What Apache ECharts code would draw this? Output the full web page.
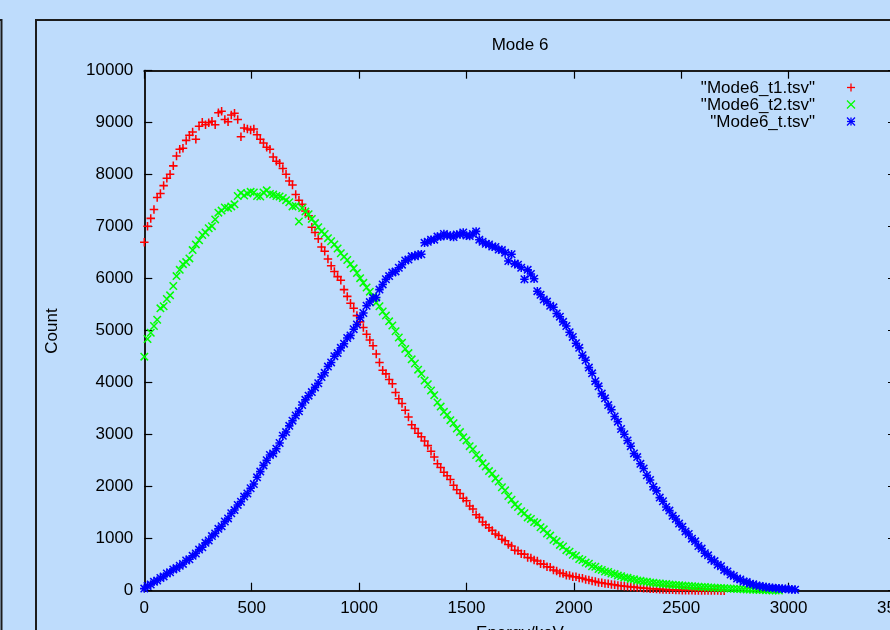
<!DOCTYPE html>
<html>
<head>
<meta charset="utf-8">
<title>Mode 6</title>
<script src="https://cdn.jsdelivr.net/npm/echarts@6/dist/echarts.min.js"></script>
<style>
  html, body { margin: 0; padding: 0; background: #bedcfc; }
  #chart { width: 890px; height: 630px; }
</style>
</head>
<body>
<div id="chart"></div>
<script>
// Energy bins are 15 keV wide, starting at 0 keV.
const ENERGY_STEP_KEV = 15;

// Counts per bin for each file.
const t1Counts = [
  6700, 7010, 7160, 7330, 7560, 7640, 7790, 7930, 8010, 8170,
  8360, 8490, 8510, 8660, 8760, 8820, 8680, 8930, 9010, 8960,
  9000, 9030, 8960, 9190, 9220, 9060, 9020, 9150, 9180, 9060,
  8730, 8900, 8880, 8860, 8880, 8770, 8680, 8610, 8530, 8490,
  8340, 8260, 8220, 8120, 8010, 7880, 7800, 7620, 7510, 7430,
  7300, 7210, 6990, 6890, 6770, 6610, 6530, 6380, 6250, 6140,
  6040, 5970, 5790, 5660, 5530, 5430, 5290, 5170, 5060, 4930,
  4820, 4710, 4550, 4390, 4240, 4170, 4060, 3980, 3810, 3690,
  3600, 3470, 3340, 3190, 3120, 3030, 2960, 2880, 2790, 2680,
  2570, 2440, 2370, 2280, 2210, 2140, 2030, 1940, 1870, 1780,
  1730, 1630, 1570, 1460, 1410, 1320, 1270, 1210, 1160, 1090,
  1060, 990, 960, 890, 860, 780, 770, 710, 700, 640,
  630, 590, 570, 520, 510, 460, 450, 400, 380, 340,
  330, 295, 290, 270, 268, 245, 238, 215, 208, 186,
  178, 158, 152, 137, 132, 118, 114, 102, 97, 86,
  81, 72, 69, 60, 57, 49, 46, 39, 36, 31,
  29, 24, 23, 19, 18, 15, 14, 11, 10, 9,
  8, 6, 6, 5, 4, 3, 3, 2, 2, 1,
  1
];

const t2Counts = [
  4500, 4840, 4960, 5090, 5210, 5430, 5470, 5610, 5680, 5860,
  6050, 6170, 6280, 6320, 6390, 6550, 6660, 6740, 6840, 6890,
  6970, 7010, 7140, 7270, 7310, 7370, 7360, 7390, 7430, 7590,
  7650, 7600, 7640, 7670, 7660, 7590, 7580, 7660, 7700, 7630,
  7620, 7590, 7580, 7550, 7510, 7470, 7390, 7400, 7100, 7360,
  7290, 7240, 7150, 7070, 6990, 6910, 6860, 6780, 6720, 6660,
  6580, 6490, 6420, 6360, 6280, 6200, 6110, 6010, 5920, 5830,
  5750, 5660, 5540, 5470, 5370, 5290, 5180, 5100, 4990, 4870,
  4770, 4650, 4570, 4450, 4370, 4250, 4170, 4040, 3970, 3850,
  3760, 3620, 3540, 3440, 3380, 3280, 3220, 3120, 3050, 2950,
  2890, 2780, 2720, 2610, 2550, 2450, 2390, 2300, 2250, 2160,
  2100, 1990, 1930, 1820, 1750, 1660, 1610, 1530, 1490, 1410,
  1380, 1320, 1300, 1220, 1180, 1100, 1060, 980, 950, 880,
  850, 780, 750, 690, 670, 610, 590, 540, 520, 470,
  460, 415, 400, 370, 360, 330, 320, 290, 280, 255,
  248, 226, 218, 198, 192, 178, 172, 158, 154, 143,
  140, 130, 128, 118, 116, 108, 106, 98, 96, 88,
  86, 79, 77, 71, 69, 63, 61, 56, 54, 50,
  48, 43, 41, 37, 35, 31, 29, 25, 23, 20,
  18, 15, 13, 10, 8, 6, 4, 2
];

const tCounts = [
  40, 90, 120, 170, 195, 245, 275, 330, 355, 410,
  435, 480, 515, 580, 605, 670, 715, 790, 835, 920,
  965, 1050, 1100, 1190, 1240, 1330, 1390, 1490, 1550, 1650,
  1710, 1810, 1870, 1970, 2050, 2180, 2290, 2410, 2510, 2610,
  2640, 2730, 2840, 2980, 3050, 3170, 3270, 3370, 3450, 3570,
  3670, 3750, 3820, 3910, 3990, 4110, 4190, 4310, 4390, 4510,
  4570, 4670, 4750, 4860, 4910, 5030, 5120, 5250, 5340, 5480,
  5550, 5630, 5640, 5790, 5890, 5990, 6050, 6120, 6140, 6210,
  6270, 6350, 6370, 6430, 6430, 6460, 6470, 6690, 6710, 6750,
  6750, 6810, 6810, 6860, 6830, 6830, 6800, 6850, 6850, 6890,
  6830, 6820, 6860, 6910, 6750, 6710, 6670, 6660, 6620, 6610,
  6560, 6550, 6500, 6340, 6470, 6290, 6270, 6210, 5990, 6170,
  6090, 6000, 5760, 5690, 5600, 5560, 5480, 5450, 5330, 5270,
  5170, 5090, 4970, 4880, 4760, 4670, 4530, 4430, 4290, 4180,
  4030, 3930, 3790, 3700, 3570, 3480, 3350, 3250, 3110, 3010,
  2890, 2780, 2640, 2570, 2440, 2350, 2220, 2130, 2000, 1920,
  1790, 1720, 1610, 1540, 1440, 1380, 1290, 1230, 1140, 1090,
  1000, 950, 860, 810, 720, 680, 600, 570, 500, 470,
  400, 370, 310, 285, 235, 215, 175, 165, 135, 125,
  98, 92, 78, 72, 58, 56, 48, 46, 38, 36,
  28, 26, 18
];

const seriesNames = ['"Mode6_t1.tsv"', '"Mode6_t2.tsv"', '"Mode6_t.tsv"'];
const seriesColors = ['#ff0000', '#00ff00', '#0000ff'];

// Axis ranges and tick steps
const X_MIN = 0, X_MAX = 3500, X_STEP = 500;
const Y_MIN = 0, Y_MAX = 10000, Y_STEP = 1000;

// Point markers: plus, cross and asterisk
const PLUS = 'M0,4.1H10V5.9H0Z M4.1,0H5.9V10H4.1Z';
const CROSS = 'M0,1.27L1.27,0L10,8.73L8.73,10Z M8.73,0L10,1.27L1.27,10L0,8.73Z';
const STAR = PLUS + ' ' + CROSS;
const markers = [PLUS, CROSS, STAR];

// Stroke segments of the same markers for the key (unit half-size)
const KEY_STROKES = [
  [[-1, 0, 1, 0], [0, -1, 0, 1]],
  [[-1, -1, 1, 1], [-1, 1, 1, -1]],
  [[-1, 0, 1, 0], [0, -1, 0, 1], [-1, -1, 1, 1], [-1, 1, 1, -1]]
];

const FONT = "'Liberation Sans', Arial, Helvetica, sans-serif";
const INK = '#000';
const FRAME = '#1c1c1c';

function toPoints(counts) {
  return counts.map((c, i) => [i * ENERGY_STEP_KEV, c]);
}

const allCounts = [t1Counts, t2Counts, tCounts];

const axisLine = { show: true, onZero: false, lineStyle: { color: FRAME, width: 2 } };
const axisTick = { show: true, inside: true, length: 8, lineStyle: { color: INK, width: 1.2 } };
const plainNumber = v => String(v);

const chart = echarts.init(document.getElementById('chart'), null, { renderer: 'canvas' });

// Key: right-aligned names with their marker to the right
const legendGraphics = [];
seriesNames.forEach((name, k) => {
  const y = 88 + k * 17;
  legendGraphics.push({
    type: 'text', x: 815, y: y,
    style: { text: name, fill: INK, font: '17px ' + FONT, textAlign: 'right', textVerticalAlign: 'middle' }
  });
  const cx = 851, cy = y - 0.5, h = 4;
  KEY_STROKES[k].forEach(s => {
    legendGraphics.push({
      type: 'line',
      shape: { x1: cx + s[0] * h, y1: cy + s[1] * h, x2: cx + s[2] * h, y2: cy + s[3] * h },
      style: { stroke: seriesColors[k], lineWidth: 1.3 }
    });
  });
});

chart.setOption({
  backgroundColor: '#bedcfc',
  animation: false,
  grid: {
    left: 144.3, top: 70.7, width: 751.7, height: 520,
    outerBoundsMode: 'none', containLabel: false
  },
  xAxis: [
    {
      type: 'value', position: 'bottom', min: X_MIN, max: X_MAX, interval: X_STEP,
      axisLine: axisLine, axisTick: axisTick, splitLine: { show: false },
      axisLabel: { margin: 9, fontSize: 17, color: INK, fontFamily: FONT, formatter: plainNumber }
    },
    {
      type: 'value', position: 'top', min: X_MIN, max: X_MAX, interval: X_STEP,
      axisLine: axisLine, axisTick: axisTick, splitLine: { show: false },
      axisLabel: { show: false }
    }
  ],
  yAxis: [
    {
      type: 'value', position: 'left', min: Y_MIN, max: Y_MAX, interval: Y_STEP,
      axisLine: axisLine, axisTick: axisTick, splitLine: { show: false },
      axisLabel: { margin: 11, fontSize: 17, color: INK, fontFamily: FONT, formatter: plainNumber }
    },
    {
      type: 'value', position: 'right', min: Y_MIN, max: Y_MAX, interval: Y_STEP,
      axisLine: axisLine, axisTick: axisTick, splitLine: { show: false },
      axisLabel: { show: false }
    }
  ],
  series: allCounts.map((counts, k) => ({
    name: seriesNames[k],
    type: 'scatter',
    xAxisIndex: 0,
    yAxisIndex: 0,
    data: toPoints(counts),
    symbol: 'path://' + markers[k],
    symbolSize: 8.5,
    clip: false,
    itemStyle: { color: seriesColors[k], opacity: 1 },
    emphasis: { disabled: true },
    z: 2 + k
  })),
  graphic: [
    // neighbouring panel edge on the left
    {
      type: 'polyline',
      shape: { points: [[-5, 20], [1.5, 20], [1.5, 640]] },
      style: { stroke: FRAME, lineWidth: 2, fill: null }
    },
    // this panel's frame
    {
      type: 'polyline',
      shape: { points: [[36, 640], [36, 20], [900, 20]] },
      style: { stroke: FRAME, lineWidth: 2, fill: null }
    },
    {
      type: 'text', x: 520, y: 45,
      style: { text: 'Mode 6', fill: INK, font: '17px ' + FONT, textAlign: 'center', textVerticalAlign: 'middle' }
    },
    {
      type: 'text', x: 52, y: 331, rotation: Math.PI / 2,
      style: { text: 'Count', fill: INK, font: '17px ' + FONT, textAlign: 'center', textVerticalAlign: 'middle' }
    },
    {
      type: 'text', x: 520, y: 633,
      style: { text: 'Energy/keV', fill: INK, font: '17px ' + FONT, textAlign: 'center', textVerticalAlign: 'middle' }
    }
  ].concat(legendGraphics)
});
</script>
</body>
</html>
